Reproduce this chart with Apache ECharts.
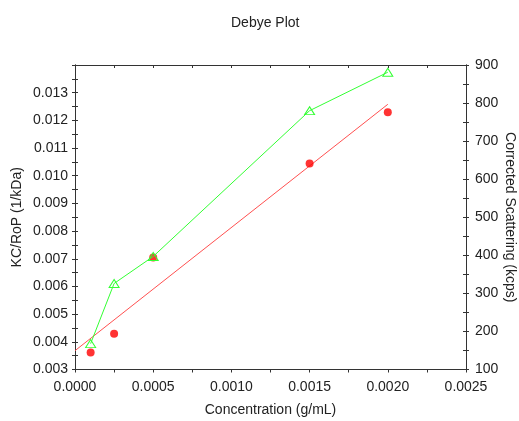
<!DOCTYPE html>
<html><head><meta charset="utf-8">
<script src="https://cdn.jsdelivr.net/npm/echarts@6/dist/echarts.min.js"></script>
<style>html,body{margin:0;padding:0;background:#fff}#c{width:519px;height:421px}</style>
</head><body><div id="c"></div>
<script>
var concentration = [0.0001, 0.00025, 0.0005, 0.0015, 0.002];
var kcRoP = [0.00361, 0.00429, 0.00705, 0.01044, 0.01229];
var scattering = [168, 326, 397, 780, 881];
var fitX = [0, 0.002];
var fitY = [0.00368, 0.01258];

var FONT = 'Liberation Sans, Arial, sans-serif';
var FS = 14;
var txt = {color:'#222', fontFamily:FONT, fontSize:FS};
var lineStyle = {color:'#333', width:1};

function pairs(xs, ys){ return xs.map(function(x,i){return [x, ys[i]];}); }

function xAxisDef(inside){
  return {type:'value', min:0, max:0.0025, interval:0.0005, gridIndex:0,
    axisLine:{show:true, onZero:false, lineStyle:lineStyle},
    axisTick:{show:true, inside:inside, length:3, lineStyle:lineStyle},
    minorTick:{show:true, splitNumber:2, length:3, lineStyle:lineStyle},
    splitLine:{show:false},
    axisLabel:{show:!inside, margin:11, formatter:function(v){return v.toFixed(4);}, color:txt.color, fontFamily:FONT, fontSize:FS},
    name: inside ? '' : 'Concentration (g/mL)', nameLocation:'middle', nameGap:34, nameMoveOverlap:false,
    nameTextStyle:txt};
}
function leftDef(inside){
  return {type:'value', position:'left', min:0.003, max:0.014, interval:0.001,
    axisLine:{show:true, onZero:false, lineStyle:lineStyle},
    axisTick:{show:true, inside:inside, length:3, lineStyle:lineStyle},
    minorTick:{show:true, splitNumber:2, length:3, lineStyle:lineStyle},
    splitLine:{show:false},
    axisLabel:{show:!inside, margin:7, formatter:function(v){ return v > 0.01395 ? '' : v.toFixed(3);}, color:txt.color, fontFamily:FONT, fontSize:FS},
    name: inside ? '' : 'KC/RoP (1/kDa)', nameLocation:'middle', nameGap:51, nameRotate:90, nameMoveOverlap:false,
    nameTextStyle:txt};
}
function rightDef(inside){
  return {type:'value', position:'right', min:100, max:900, interval:100,
    axisLine:{show:true, onZero:false, lineStyle:lineStyle},
    axisTick:{show:true, inside:inside, length:3, lineStyle:lineStyle},
    minorTick:{show:true, splitNumber:2, length:3, lineStyle:lineStyle},
    splitLine:{show:false},
    axisLabel:{show:!inside, margin:9, color:txt.color, fontFamily:FONT, fontSize:FS},
    name: inside ? '' : 'Corrected Scattering (kcps)', nameLocation:'middle', nameGap:37, nameRotate:-90, nameMoveOverlap:false,
    nameTextStyle:txt};
}

var chart = echarts.init(document.getElementById('c'), null, {renderer:'canvas'});
chart.setOption({
  animation:false,
  backgroundColor:'#fff',
  title:{text:'Debye Plot', left:226, top:11,
    textStyle:{color:'#222', fontFamily:FONT, fontSize:FS, fontWeight:'normal'}},
  grid:{left:75, right:53, top:65, bottom:51.5, containLabel:false, outerBoundsMode:'none'},
  xAxis:[xAxisDef(false), xAxisDef(true)],
  yAxis:[leftDef(false), rightDef(false), leftDef(true), rightDef(true)],
  series:[
    {type:'line', name:'fit', xAxisIndex:0, yAxisIndex:0, data:pairs(fitX, fitY),
      showSymbol:false, symbol:'none', lineStyle:{color:'#ff5050', width:1}, z:2},
    {type:'scatter', name:'KC/RoP', xAxisIndex:0, yAxisIndex:0, data:pairs(concentration, kcRoP),
      symbol:'circle', symbolSize:8, itemStyle:{color:'#ff0000'}, z:3},
    {type:'line', name:'Scattering', xAxisIndex:0, yAxisIndex:1, data:pairs(concentration, scattering),
      symbol:'triangle', symbolSize:[10,8], showSymbol:true,
      itemStyle:{color:'rgba(0,0,0,0)', borderColor:'#33ff33', borderWidth:1},
      lineStyle:{color:'#33ff33', width:1}, z:4}
  ]
});
</script></body></html>
